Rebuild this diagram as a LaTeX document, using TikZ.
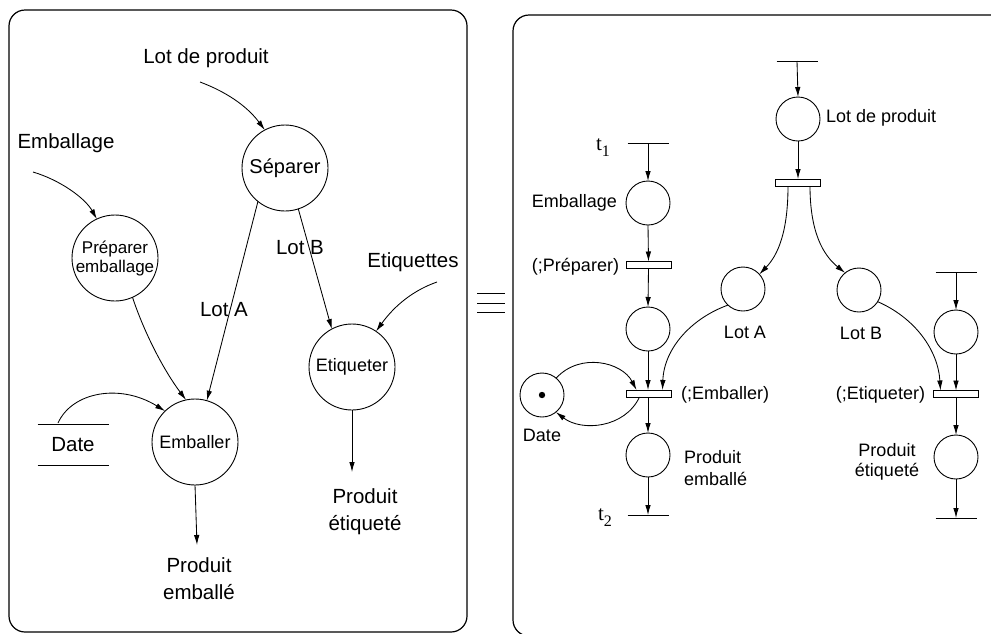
\documentclass[tikz,border=0pt]{standalone}
\usepackage{fontspec}
\setmainfont{Liberation Sans}
\newfontfamily\serifrm{Liberation Serif}
\usetikzlibrary{arrows.meta}
\begin{document}
\begin{tikzpicture}[x=1pt,y=-1pt,
  every node/.style={inner sep=0pt, outer sep=0pt},
  big/.style={font=\fontsize{20.5}{27}\selectfont, align=center},
  mid/.style={font=\fontsize{18}{20}\selectfont, align=center},
  sml/.style={font=\fontsize{18}{21}\selectfont},
  proc/.style={draw, circle, minimum size=86pt, line width=0.9pt},
  place/.style={draw, circle, minimum size=44pt, line width=0.9pt},
  trans/.style={draw, rectangle, minimum width=45pt, minimum height=7pt, line width=0.9pt},
  store/.style={minimum width=71pt, minimum height=41pt},
  arr/.style={-{Latex[length=10pt,width=5.5pt]}, line width=0.85pt},
  frame/.style={draw, rounded corners=16pt, line width=1.2pt},
  tlab/.style={font=\serifrm\fontsize{21}{21}\selectfont}
]
\useasboundingbox (0,0) rectangle (991,633);
\fill[white] (0,0) rectangle (991,633);

% ---------- frames ----------
\draw[frame] (9,10) rectangle (467,632);
\draw[frame] (1012,15) -- (513,15) -- (513,636) -- (1012,636);

% equivalence sign
\draw[line width=0.8pt] (477,293) -- (505,293) (477,303) -- (505,303) (477,312) -- (505,312);

% ---------- left panel ----------
\node[proc, font=\fontsize{20}{22}\selectfont] (sep) at (285,168) {Séparer};
\node[proc, mid, font=\fontsize{17}{19}\selectfont] (prep) at (115,258) {Préparer\\emballage};
\node[proc, mid] (emb) at (195,442) {Emballer};
\node[proc, mid] (eti) at (352,367) {Etiqueter};
\node[store, big] (date) at (73,445) {Date};
\draw[line width=0.9pt] (date.north west) -- (date.north east) (date.south west) -- (date.south east);

\node[big] (llp) at (206,58) {Lot de produit};
\node[big] (lemb) at (66,143) {Emballage};
\node[big] (leti) at (413,262) {Etiquettes};
\node[big] (lpe) at (199,579) {Produit\\emballé};
\node[big] (lpet) at (365,512) {Produit\\étiqueté};
\node[big] (lla) at (224,310) {Lot A};
\node[big] (llb) at (300,248) {Lot B};

\coordinate (c1) at (200,82);
\coordinate (c2) at (33,172);
\coordinate (c3) at (437,282);
\coordinate (c4) at (58,423);
\coordinate (c5) at (197,545);
\coordinate (c6) at (352,472);

\draw[arr] (c1) .. controls (232,94) and (250,110) .. (sep.118);
\draw[arr] (c2) .. controls (60,180) and (85,198) .. (prep.115);
\draw[arr] (c3) .. controls (414,290) and (395,305) .. (eti.56);
\draw[arr] (sep.231) -- (emb.74);
\draw[arr] (sep.288) -- (eti.118);
\draw[arr] (prep.294) .. controls (145,335) and (165,372) .. (emb.102);
\draw[arr] (c4) .. controls (72,392) and (120,383) .. (emb.134);
\draw[arr] (emb.south) -- (c5);
\draw[arr] (eti.south) -- (c6);

% ---------- right panel ----------
\node[place] (lp) at (798,119) {};
\node[place] (pe1) at (648,203) {};
\node[place] (p2) at (648,329) {};
\node[place] (la) at (743,289) {};
\node[place] (lb) at (859,290) {};
\node[place] (d2) at (542,395) {};
\node[place] (pe) at (648,455) {};
\node[place] (p3) at (956,332) {};
\node[place] (pet) at (956,457) {};
\fill (d2.center) circle (3.2pt);

\node[trans] (tsep) at (798,182.5) {};
\node[trans] (tprep) at (648.5,265) {};
\node[trans] (temb) at (648.5,393.5) {};
\node[trans] (teti) at (955.5,394) {};

% bars
\coordinate (b0) at (797,61);
\coordinate (bt1) at (648,143);
\coordinate (bt2) at (648,515);
\coordinate (b3) at (956,272);
\coordinate (b4) at (956,518);
\foreach \b in {b0,bt1,bt2,b3,b4} \draw[line width=0.9pt] ([xshift=-20.5pt]\b) -- ([xshift=20.5pt]\b);

\node[tlab] (t1) at (603,148) {t\raisebox{-6pt}{\fontsize{16}{16}\selectfont 1}};
\node[tlab] (t2) at (605,518) {t\raisebox{-6pt}{\fontsize{16}{16}\selectfont 2}};

% labels
\node[sml, anchor=west] (rlp) at (826,118) {Lot de produit};
\node[sml, anchor=east] (remb) at (617,203) {Emballage};
\node[sml, anchor=east] (rprep) at (619,267) {(;Préparer)};
\node[sml, anchor=west] (remb2) at (681,395) {(;Emballer)};
\node[sml, anchor=east] (reti) at (925,395) {(;Etiqueter)};
\node[sml] (rla) at (745,332) {Lot A};
\node[sml] (rlb) at (861,333) {Lot B};
\node[sml] (rdate) at (542,435) {Date};
\node[sml, anchor=west, align=left, font=\fontsize{18}{22}\selectfont] (rpe) at (684,468) {Produit\\emballé};
\node[sml, align=center, font=\fontsize{18}{20}\selectfont] (rpet) at (887,462) {Produit\\étiqueté};

% arcs
\draw[arr] (b0) -- (lp.north);
\draw[arr] (lp.south) -- (tsep.north);
\draw[arr] ([xshift=-10pt]tsep.south) .. controls (788,232) and (778,255) .. (la.42);
\draw[arr] ([xshift=12pt]tsep.south) .. controls (810,232) and (823,255) .. (lb.129);
\draw[arr] (bt1) -- (pe1.north);
\draw[arr] (pe1.south) -- (tprep.north);
\draw[arr] (tprep.south) -- (p2.north);
\draw[arr] (p2.south) -- ([xshift=-0.5pt]temb.north);
\draw[arr] (la.227) .. controls (692,318) and (664,348) .. ([xshift=14pt]temb.north);
\draw[arr] (d2.50) .. controls (580,352) and (622,362) .. ([xshift=-12pt]temb.north);
\draw[arr] ([xshift=-9pt]temb.south) .. controls (625,428) and (582,432) .. (d2.309);
\draw[arr] ([xshift=-0.5pt]temb.south) -- (pe.north);
\draw[arr] (pe.south) -- (bt2);
\draw[arr] (b3) -- (p3.north);
\draw[arr] (p3.south) -- ([xshift=0.5pt]teti.north);
\draw[arr] (lb.328) .. controls (915,318) and (938,350) .. ([xshift=-15pt]teti.north);
\draw[arr] ([xshift=0.5pt]teti.south) -- (pet.north);
\draw[arr] (pet.south) -- (b4);
\end{tikzpicture}
\end{document}
